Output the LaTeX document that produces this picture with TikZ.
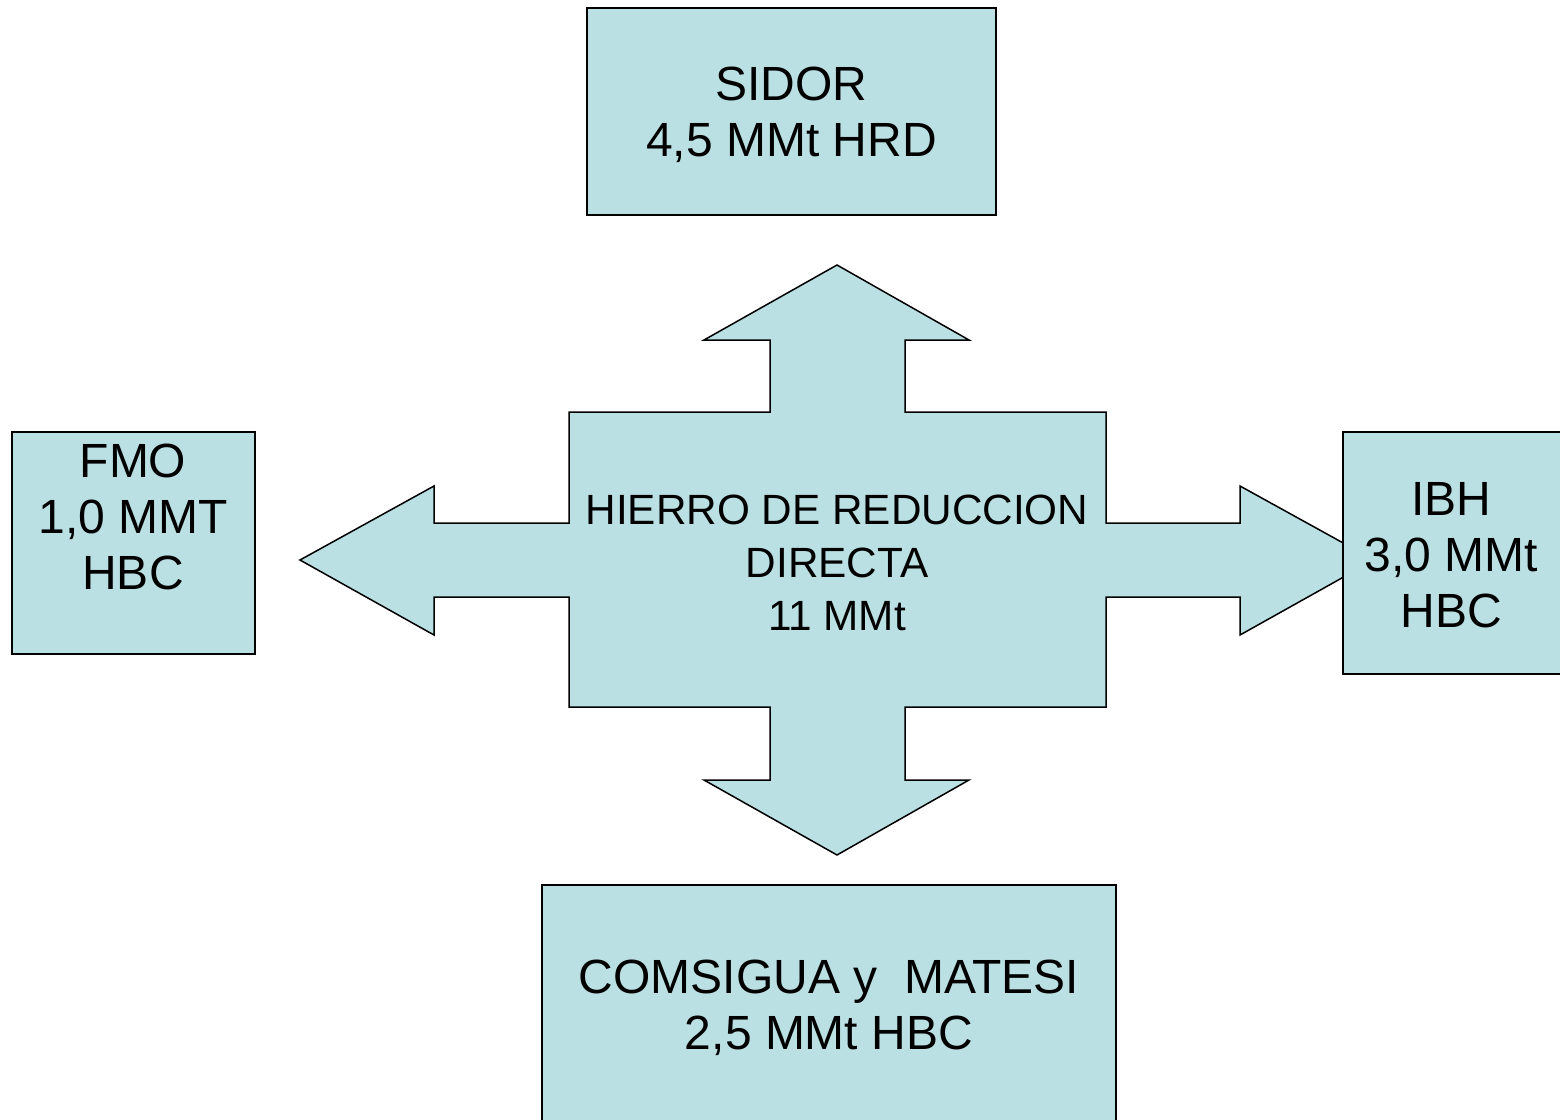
\documentclass[tikz,border=0pt]{standalone}
\usepackage{fontspec}
\setmainfont{Liberation Sans}
\definecolor{boxfill}{RGB}{187,224,227}
\tikzset{
  box/.style={draw=black, fill=boxfill, line width=1.5pt, inner sep=0pt, outer sep=0pt},
  lbl/.style={align=center, inner sep=0pt, font=\fontsize{48}{56}\selectfont},
  clbl/.style={align=center, inner sep=0pt, font=\fontsize{42.3}{53}\selectfont},
  cross/.style={draw=black, fill=boxfill, line width=1.5pt, line join=miter}
}
\begin{document}
\begin{tikzpicture}[x=1pt,y=-1pt]
\useasboundingbox (0,0) rectangle (1560,1119);
% central quad arrow
\draw[cross] (569,412) -- (770,412) -- (770,340) -- (704,340) -- (837,265) -- (969,340) -- (905,340) -- (905,412)
  -- (1106,412) -- (1106,523) -- (1240,523) -- (1240,486) -- (1374,560) -- (1240,635) -- (1240,597) -- (1106,597)
  -- (1106,707) -- (905,707) -- (905,780) -- (969,780) -- (837,855) -- (704,780) -- (770,780) -- (770,707)
  -- (569,707) -- (569,597) -- (434,597) -- (434,635) -- (300,560) -- (434,486) -- (434,523) -- (569,523) -- cycle;
\node[clbl] (center) at (837,563) {HIERRO DE REDUCCION\\DIRECTA\\11 MMt};
% boxes
\node[box, minimum width=409pt, minimum height=207pt] (sidor) at (791.5,111.5) {};
\node[lbl] (sidortxt) at (791.5,115) {SIDOR\\4,5 MMt HRD};
\node[box, minimum width=243pt, minimum height=222pt] (fmo) at (133.5,543) {};
\node[lbl] (fmotxt) at (133,517) {FMO\\1,0 MMT\\HBC};
\node[box, minimum width=218pt, minimum height=242pt] (ibh) at (1452,553) {};
\node[lbl] (ibhtxt) at (1451,555) {IBH\\3,0 MMt\\HBC};
\node[box, minimum width=574pt, minimum height=260pt] (coms) at (829,1015) {};
\node[lbl] (comstxt) at (829,1008) {COMSIGUA y\ \ MATESI\\2,5 MMt HBC};
\end{tikzpicture}
\end{document}
